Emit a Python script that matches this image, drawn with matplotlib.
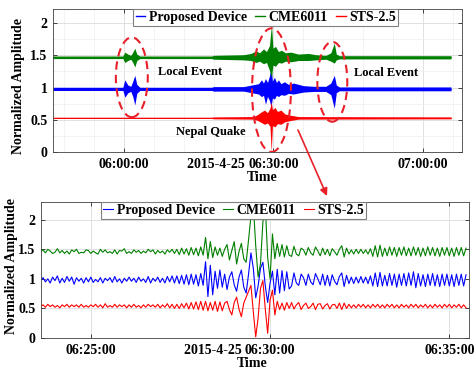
import numpy as np
import matplotlib
matplotlib.use('Agg')
import matplotlib.pyplot as plt
from matplotlib.patches import Ellipse
from matplotlib.ticker import MultipleLocator

plt.rcParams['font.family'] = ['Liberation Serif', 'DejaVu Serif']
plt.rcParams['font.weight'] = 'bold'

# ---------------- data ----------------
series_names = ['Proposed Device', 'CME6011', 'STS-2.5']

# Overview panel: time in minutes after 06:00:00, envelope of each trace
# (baseline, upper / lower deviation in hundredths)
ov_base_blue, ov_base_green, ov_base_red = 0.98, 1.47, 0.53
ov_t_blue = [-14.2, -0.2, 0.2, 0.8, 1.4, 1.8, 2.2, 2.6, 3.2, 17.6, 18.0, 24, 25,
             27.0, 27.6, 28.0, 28.4, 28.8, 29.2, 29.5, 29.8, 30.2, 30.6, 31.0, 31.5, 32.2,
             33, 34, 36, 38, 40.5, 41.5, 42.2, 42.6, 43.2, 65.6]
ov_blue_up = [2.5, 2.5, 14, 6, 4, 12, 21, 7, 2.5, 2.5, 3.5, 3.5, 5,
              8, 14, 9, 16, 10, 20, 34, 12, 18, 10, 14, 8, 11, 7, 9, 5, 4,
              4, 9, 21, 6, 3, 3]
ov_blue_lo = [-2.5, -2.5, -13, -6, -4, -12, -25, -7, -2.5, -2.5, -3.5, -3.5, -5,
              -8, -12, -10, -24, -12, -18, -28, -14, -16, -10, -12, -9, -10, -7, -8, -5, -4,
              -4, -9, -30, -6, -3, -3]
ov_t_green = [-14.2, -0.2, 0.2, 0.8, 1.4, 1.8, 2.2, 2.6, 3.2, 17.6, 18.0, 24,
              25.5, 26.5, 27.2, 28.0, 28.6, 29.2, 29.6, 29.9, 30.4, 31.0, 31.6, 32.4, 33.5,
              35, 37, 38.5, 40.5, 41.5, 42.2, 42.6, 43.2, 65.6]
ov_green_up = [2, 2, 8, 5, 3, 8, 14, 5, 2, 2, 3, 4,
               6, 10, 7, 13, 9, 18, 51, 14, 17, 9, 11, 7, 8, 5, 6, 4,
               3, 7, 22, 5, 2.5, 2.5]
ov_green_lo = [-2, -2, -8, -5, -3, -8, -15, -5, -2, -2, -3, -4,
               -5, -8, -6, -10, -8, -20, -31, -12, -14, -8, -9, -6, -7, -5, -5, -4,
               -3, -6, -9, -4, -2.5, -2.5]
ov_t_red = [-14.2, 17.6, 18.0, 26, 26.8, 27.5, 28.2, 28.8, 29.3, 29.55, 29.8, 30.3,
            30.8, 31.5, 32.3, 33.5, 35, 65.6]
ov_red_up = [1, 1, 1.5, 2, 5, 9, 12, 8, 15, 25, 13, 16, 10, 12, 6, 4, 2, 1.5]
ov_red_lo = [-1, -1, -1.5, -2, -4, -7, -10, -8, -13, -53, -12, -14, -9, -10, -6, -4, -2, -1.5]

# Detail panel: samples every 4 s starting 84 s before 06:25:00,
# deviation from baseline in hundredths
det_t0_s, det_dt_s = -84, 4
det_base_blue, det_base_green, det_base_red = 0.98, 1.46, 0.54
det_green = [
    0, 3, -2, 4, 1, -3, -1, 5, -2, 2, -3, 1, -4, 3, 0, 4, -3, -1, -2, 3,
    2, -3, 1, -2, -4, 4, -1, 3, -2, 0, -3, 3, -4, 2, 1, 5, -3, 0, -3, 3,
    -1, 2, -3, 1, -2, 4, 0, 3, -4, 2, -2, 1, -4, 3, -1, 4, -3,
    4, -5, 6, -4, 5, -6, 7, -5, 6, -7, 8, -6,
    24, -12,
    17, -10, 8, -6, 6, -8, 4, 12, -14, 2, 17, -21, 0, 14, -12,
    -18, 20, 60, 79, 10, -43, -20, 50, 79, -10, -46,
    30, -12, 14, -8, 12, -9, 10, -6,
    -8, 9, -4, -7, 6, 3, -6, 7, -2, -6, 8, 1, -7, 6, -5, 4, -7, 5, 0, -6,
    4, 10, -9, 6, -4, 3, -4, 4, -3, 4, -3, 3, -4, 5, -8, 10, -9, 11, -8, 6,
    -7, 8, -6, 7, -8, 7, -6, 8, -7, 6, -7, 8, -6, 7, -8, 6, -7, 8, -6, 7,
    -7, 6, -8, 7, -6, 7, -7, 6, -8, 7, -6, 7, -7, 6]
det_blue = [
    0, 4, -3, 2, -5, 5, -1, 7, -5, 3, -4, 6, -2, 5, -7, 4, -2, 3, -5, 4,
    -3, 5, -4, 1, -3, 4, -5, 3, -1, 4, -4, 6, -3, 2, -5, 3, -2, 5, -2, 3,
    -4, 5, -2, 2, -4, 6, -5, 3, -2, 5, -4, 3, -5, 6, -3, 7, -5,
    7, -6, 8, -7, 9, -8, 10, -7, 9, -10, 11, -9,
    31, -28,
    25, -25, 15, -14, 17, -12, 10, -16, 5, 14, -8, -19, 5, 17, -12,
    -22, 10, 46, 20, -30, -10, 20, 30, -10, -38, -5,
    15, -25, 18, -22, 16, -18, 14, -15,
    -10, 12, -5, -9, 10, 4, -9, 10, -3, -8, 11, 2, -8, 10, -9, 8, -10, 9, -2, -8,
    6, 12, -11, 8, -6, 5, -6, 5, -5, 6, -5, 5, -6, 7, -10, 12, -11, 13, -10, 8,
    -10, 11, -9, 10, -12, 10, -9, 11, -10, 12, -9, 14, -13, 11, -10, 9, -11, 10, -9, 11,
    -10, 9, -11, 10, -9, 10, -10, 9, -11, 10, -9, 10, -10, 9]
det_red = [
    0, 2, -2, 3, -1, 2, -2, 1, -3, 2, -1, 3, -2, 2, -1, 2, -2, 3, -2, 1,
    -2, 2, -1, 3, -2, 2, -3, 4, -2, 1, -2, 3, -2, 2, -1, 2, -3, 2, -2, 3,
    -2, 1, -3, 2, -2, 3, -1, 2, -2, 3, -3, 2, -2, 4, -3, 3, -4,
    3, -4, 4, -3, 5, -5, 6, -5, 7, -6, 8, -7,
    8, -8,
    6, -7, 8, -9, 7, -8, 5, 8, -6, -15, 6, 15, -5, -18, 5,
    15, 25, 35, -10, -52, -20, 30, 43, -5, -46, 10,
    27, -15, 8, -6, 5, -7, 6, -4,
    6, -5, 2, 6, -6, 1, 5, -4, -1, 5, -6, 3, 4, -5, 1, 4, -5, 2, 3, -4,
    5, -6, 5, -4, 3, -3, 2, -3, 3, -2, 3, -3, 2, -3, 3, -2, 3, -3, 2, -3,
    3, -2, 3, -3, 2, -3, 3, -2, 2, -3, 3, -2, 3, -3, 2, -2, 3, -3, 2, -3,
    3, -2, 2, -3, 3, -2, 3, -3, 2, -2, 3, -3, 2, -3]

ov_ticks = [0, 30, 60]
ov_ticklabels = ['06:00:00', '06:30:00', '07:00:00']
det_ticks = [0, 5, 10]
det_ticklabels = ['06:25:00', '06:30:00', '06:35:00']
y_ticks = [0, 0.5, 1, 1.5, 2]
y_ticklabels = ['0', '0.5', '1', '1.5', '2']
date_label = '2015-4-25'

# ---------------- styles ----------------
C_BLUE, C_GREEN, C_RED = '#0000ff', '#008000', '#ff0000'
GRID_MAJ, GRID_MIN = '#dcdcdc', '#eeeeee'

fig = plt.figure(figsize=(4.75, 3.7), dpi=100)
ax1 = fig.add_axes([0.1116, 0.5892, 0.861, 0.3865])
ax2 = fig.add_axes([0.0863, 0.0865, 0.9011, 0.3676])


def style_axes(ax, minor):
    ax.set_axisbelow(True)
    ax.grid(True, which='major', color=GRID_MAJ, lw=0.6)
    if minor:
        ax.grid(True, which='minor', color=GRID_MIN, lw=0.5)
    ax.tick_params(which='major', direction='in', top=True, right=True, length=3,
                   width=0.6, labelsize=10, pad=4, colors='#262626', labelcolor='black')
    ax.tick_params(which='minor', length=0)
    for s in ax.spines.values():
        s.set_color('#404040')
        s.set_linewidth(0.6)


# ---- overview panel ----
handles = []
for t, base, up, lo, c in [(ov_t_blue, ov_base_blue, ov_blue_up, ov_blue_lo, C_BLUE),
                           (ov_t_green, ov_base_green, ov_green_up, ov_green_lo, C_GREEN),
                           (ov_t_red, ov_base_red, ov_red_up, ov_red_lo, C_RED)]:
    t = np.array(t)
    ax1.fill_between(t, base + np.array(lo) / 100, base + np.array(up) / 100,
                     color=c, lw=0, zorder=2)
    h, = ax1.plot(t, np.full(len(t), base), color=c, lw=0.6, zorder=2)
    handles.append(h)

ax1.set_xlim(-14.2, 67.8)
ax1.set_ylim(0, 2.22)
ax1.set_xticks(ov_ticks, ov_ticklabels)
ax1.set_yticks(y_ticks, y_ticklabels)
ax1.xaxis.set_minor_locator(MultipleLocator(6))
ax1.yaxis.set_minor_locator(MultipleLocator(0.25))
style_axes(ax1, True)
ax1.set_ylabel('Normalized Amplitude', fontsize=10, fontweight='bold')
ax1.yaxis.set_label_coords(-0.068, 0.46)
ax1.set_xlabel('Time', fontsize=10, fontweight='bold')
ax1.xaxis.set_label_coords(0.511, -0.133)

ell_kw = dict(fill=False, ec='#e8202a', lw=1.5, ls=(0, (4, 2.5)), zorder=4)
ax1.add_patch(Ellipse((1.6, 1.16), 6.4, 1.24, **ell_kw))
ax1.add_patch(Ellipse((29.6, 0.96), 7.8, 1.92, **ell_kw))
ax1.add_patch(Ellipse((41.8, 1.09), 6.0, 1.24, **ell_kw))
txt_kw = dict(ha='center', va='center', fontsize=9, fontweight='bold', zorder=5)
ax1.text(13.2, 1.24, 'Local Event', **txt_kw)
ax1.text(17.4, 0.31, 'Nepal Quake', **txt_kw)
ax1.text(52.6, 1.22, 'Local Event', **txt_kw)

leg_kw = dict(loc='upper center', ncol=3, prop=dict(weight='bold', size=10),
              frameon=True, fancybox=False, edgecolor='#808080', framealpha=1,
              handlelength=0.7, handletextpad=0.25, columnspacing=0.6,
              borderpad=0.15, borderaxespad=0)
leg1 = ax1.legend(handles, series_names, bbox_to_anchor=(0.52, 1.0), **leg_kw)
leg1.get_frame().set_linewidth(0.8)
for ln in leg1.get_lines():
    ln.set_linewidth(1.0)

# ---- detail panel ----
handles2 = []
for base, dev, c in [(det_base_blue, det_blue, C_BLUE),
                     (det_base_green, det_green, C_GREEN),
                     (det_base_red, det_red, C_RED)]:
    tt = (det_t0_s + det_dt_s * np.arange(len(dev))) / 60.0
    h, = ax2.plot(tt, base + np.array(dev) / 100, color=c, lw=0.8, zorder=2)
    handles2.append(h)

ax2.set_xlim(-1.39, 10.55)
ax2.set_ylim(0, 2.3)
ax2.set_xticks(det_ticks, det_ticklabels)
ax2.set_yticks(y_ticks, y_ticklabels)
style_axes(ax2, False)
ax2.set_ylabel('Normalized Amplitude', fontsize=10, fontweight='bold')
ax2.yaxis.set_label_coords(-0.054, 0.53)
ax2.set_xlabel('Time', fontsize=10, fontweight='bold')
ax2.xaxis.set_label_coords(0.493, -0.14)
leg2 = ax2.legend(handles2, series_names, bbox_to_anchor=(0.45, 1.0), **leg_kw)
leg2.get_frame().set_linewidth(0.8)

# date prefix before the middle tick labels
fig.canvas.draw()
for ax in (ax1, ax2):
    lab = ax.get_xticklabels()[1]
    ax.annotate(date_label + ' ', xy=(0, 0.5), xycoords=lab, ha='right', va='center',
                fontsize=10, fontweight='bold', annotation_clip=False)

# arrow from overview to detail
fig.add_artist(plt.Annotation('', xy=(327 / 475, 1 - 196 / 370), xycoords='figure fraction',
                              xytext=(298 / 475, 1 - 130 / 370), textcoords='figure fraction',
                              arrowprops=dict(arrowstyle='-|>', color='#e8202a', lw=1.2,
                                              mutation_scale=11, shrinkA=0, shrinkB=0)))

fig.savefig('out.png', dpi=100)
